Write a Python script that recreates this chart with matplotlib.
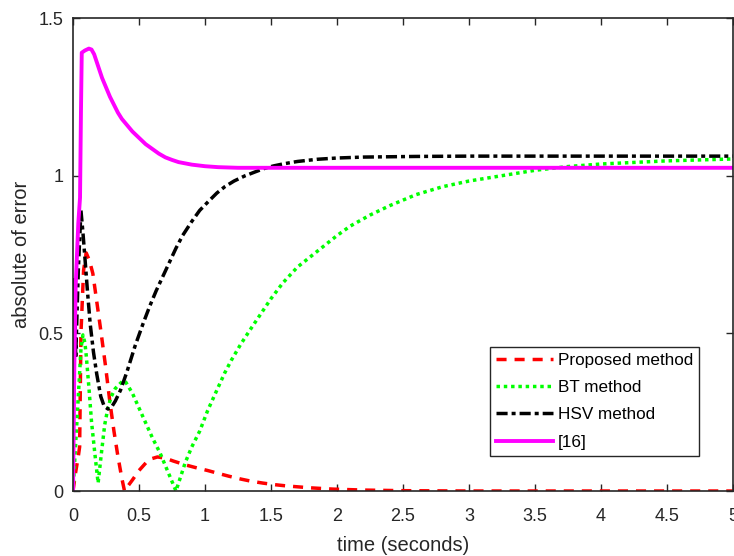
import matplotlib

matplotlib.use('Agg')
import matplotlib.pyplot as plt

plt.rcParams['font.family'] = ['Liberation Sans', 'DejaVu Sans']

# values
t_prop = [0, 0.02, 0.04, 0.05, 0.06, 0.08, 0.1, 0.125, 0.15, 0.18, 0.21, 0.245, 0.28, 0.31, 0.34, 0.37,
          0.39, 0.42, 0.45, 0.5, 0.56, 0.6, 0.64, 0.7, 0.76, 0.85, 0.94, 1.02, 1.09, 1.18, 1.27, 1.35,
          1.44, 1.53, 1.62, 1.8, 1.97, 2.2, 2.5, 3, 3.5, 4, 4.5, 5]
err_prop = [0, 0.06, 0.11, 0.14, 0.5, 0.7, 0.755, 0.73, 0.69, 0.60, 0.51, 0.40, 0.28, 0.19, 0.11, 0.04,
            0.0, 0.018, 0.035, 0.065, 0.093, 0.103, 0.108, 0.104, 0.095, 0.083, 0.073, 0.065, 0.057, 0.047,
            0.038, 0.031, 0.025, 0.02, 0.016, 0.01, 0.006, 0.003, 0.001, 0, 0, 0, 0, 0]

t_bt = [0, 0.02, 0.04, 0.06, 0.075, 0.09, 0.1, 0.12, 0.14, 0.165, 0.19, 0.215, 0.24, 0.265, 0.29, 0.32,
        0.355, 0.38, 0.40, 0.45, 0.53, 0.6, 0.66, 0.72, 0.78, 0.85, 0.9, 0.96, 1.02, 1.09, 1.15, 1.2, 1.27,
        1.34, 1.42, 1.5, 1.59, 1.7, 1.85, 2.0, 2.1, 2.25, 2.4, 2.6, 2.8, 3.0, 3.25, 3.5, 3.75, 4.0, 4.25,
        4.5, 4.75, 5]
err_bt = [0, 0.15, 0.30, 0.45, 0.495, 0.47, 0.43, 0.33, 0.22, 0.12, 0.025, 0.12, 0.21, 0.265, 0.30, 0.325,
          0.34, 0.35, 0.345, 0.31, 0.235, 0.17, 0.12, 0.06, 0.0, 0.09, 0.14, 0.19, 0.255, 0.32, 0.375, 0.415,
          0.465, 0.51, 0.56, 0.61, 0.66, 0.71, 0.76, 0.81, 0.84, 0.875, 0.905, 0.94, 0.965, 0.983, 1.0,
          1.017, 1.029, 1.037, 1.042, 1.047, 1.05, 1.053]

t_hsv = [0, 0.005, 0.012, 0.02, 0.04, 0.06, 0.075, 0.09, 0.11, 0.13, 0.155, 0.18, 0.21, 0.235, 0.265,
         0.29, 0.32, 0.36, 0.41, 0.47, 0.53, 0.58, 0.63, 0.68, 0.73, 0.78, 0.83, 0.9, 0.96, 1.03, 1.09,
         1.15, 1.22, 1.3, 1.38, 1.45, 1.52, 1.6, 1.7, 1.85, 2.0, 2.2, 2.6, 3, 4, 5]
err_hsv = [0, 0.67, 0.66, 0.42, 0.7, 0.89, 0.82, 0.74, 0.63, 0.53, 0.44, 0.37, 0.30, 0.27, 0.26,
           0.265, 0.285, 0.32, 0.38, 0.46, 0.53, 0.585, 0.635, 0.68, 0.725, 0.77, 0.81, 0.855, 0.89, 0.92,
           0.945, 0.965, 0.983, 0.999, 1.012, 1.023, 1.031, 1.038, 1.045, 1.052, 1.056, 1.059, 1.061, 1.062,
           1.062, 1.062]

t_ref = [0, 0.01, 0.02, 0.04, 0.053, 0.06, 0.066, 0.09, 0.12, 0.14, 0.16, 0.18, 0.2, 0.22, 0.25, 0.28,
         0.31, 0.34, 0.37, 0.41, 0.45, 0.5, 0.55, 0.6, 0.65, 0.7, 0.75, 0.8, 0.9, 1.0, 1.1, 1.25, 2, 5]
err_ref = [0, 0.4, 0.65, 0.85, 0.93, 1.2, 1.39, 1.397, 1.403, 1.40, 1.385, 1.36, 1.335, 1.31, 1.28, 1.25,
           1.225, 1.20, 1.18, 1.16, 1.14, 1.12, 1.10, 1.085, 1.07, 1.058, 1.05, 1.043, 1.035, 1.03, 1.027,
           1.025, 1.025, 1.025]

labels = ['Proposed method', 'BT method', 'HSV method', '[16]']
x_ticks = [0, 0.5, 1, 1.5, 2, 2.5, 3, 3.5, 4, 4.5, 5]
x_ticklabels = ['0', '0.5', '1', '1.5', '2', '2.5', '3', '3.5', '4', '4.5', '5']
y_ticks = [0, 0.5, 1, 1.5]
y_ticklabels = ['0', '0.5', '1', '1.5']

fig = plt.figure(figsize=(7.34, 5.56), dpi=100)
ax = fig.add_axes([0.0995, 0.1169, 0.899, 0.8507])

ax.plot(t_prop, err_prop, color=(1, 0, 0), lw=2.5, dashes=(2.9, 2.3), label=labels[0])
ax.plot(t_bt, err_bt, color=(0, 1, 0), lw=2.5, dashes=(1.0, 1.1), label=labels[1])
ax.plot(t_hsv, err_hsv, color='black', lw=2.5, dashes=(3.2, 1.15, 1.15, 1.15), label=labels[2])
ax.plot(t_ref, err_ref, color=(1, 0, 1), lw=2.8, label=labels[3])

ax.set_xlim(0, 5)
ax.set_ylim(0, 1.5)
ax.set_xticks(x_ticks)
ax.set_xticklabels(x_ticklabels)
ax.set_yticks(y_ticks)
ax.set_yticklabels(y_ticklabels)

dark = (0.15, 0.15, 0.15)
ax.tick_params(direction='in', length=5, width=1, top=True, right=True, colors=dark, labelsize=13)
ax.tick_params(axis='x', pad=12)
ax.tick_params(axis='y', pad=7)
for s in ax.spines.values():
    s.set_color(dark)
    s.set_linewidth(1.2)

ax.set_xlabel('time (seconds)', fontsize=14.5, color=dark, labelpad=8)
ax.set_ylabel('absolute of error', fontsize=14.5, color=dark, labelpad=5)

leg = ax.legend(loc='upper left', bbox_to_anchor=(0.632, 0.304), fontsize=12.3, fancybox=False,
                framealpha=1, edgecolor=dark, handlelength=3.33, handletextpad=0.3, labelspacing=0.71,
                borderpad=0.35, borderaxespad=0)
leg.get_frame().set_linewidth(1.0)

plt.savefig('out.png', dpi=100)
plt.close()
